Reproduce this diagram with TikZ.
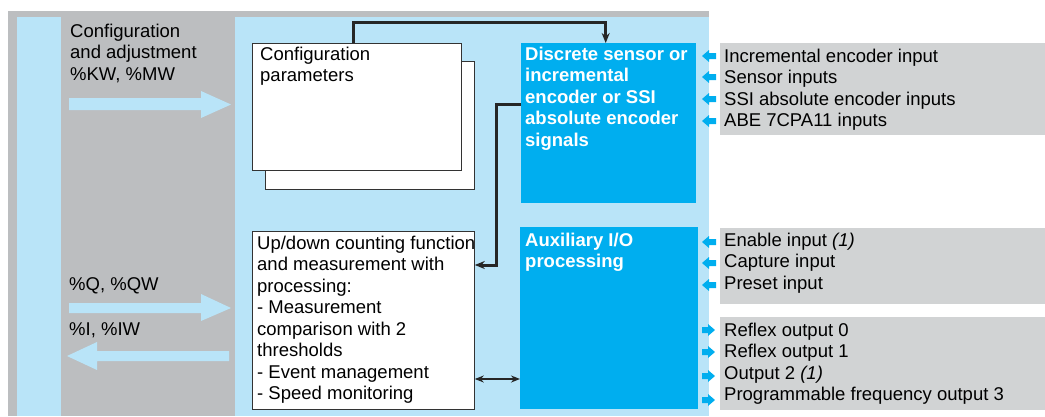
\documentclass[tikz,border=0pt]{standalone}
\usepackage{fontspec}
\setmainfont{Liberation Sans}
\usetikzlibrary{arrows.meta}

\definecolor{framegray}{RGB}{188,190,192}
\definecolor{paleblue}{RGB}{185,228,248}
\definecolor{signalblue}{RGB}{0,174,239}
\definecolor{panelgray}{RGB}{209,211,212}

\tikzset{
  whitebox/.style={draw=black!80,line width=0.8pt,fill=white,inner sep=0pt,anchor=north west},
  bluebox/.style={fill=signalblue,inner sep=0pt,anchor=north west},
  graybox/.style={fill=panelgray,inner sep=0pt,anchor=north west},
  boxtext/.style={anchor=north west,inner sep=0pt,align=left,font=\fontsize{18.5}{21.5}\selectfont},
  boldtext/.style={boxtext,text=white,font=\fontsize{18.5}{21.5}\selectfont\bfseries},
  wire/.style={draw=black!85,line width=3pt},
}

\begin{document}
\begin{tikzpicture}[x=1pt,y=-1pt]
\useasboundingbox (0,0) rectangle (1045,416);
% backgrounds
\fill[framegray] (8,11) rectangle (709,416);
\fill[paleblue] (17,17) rectangle (61,416);
\fill[paleblue] (235,17) rectangle (709,416);
% exchanges with the PLC
\fill[paleblue] (69,98) -- (201,98) -- (201,91) -- (231,104.5) -- (201,118) -- (201,110) -- (69,110) -- cycle;
\fill[paleblue] (69,303) -- (201,303) -- (201,294) -- (231,308) -- (201,321) -- (201,313) -- (69,313) -- cycle;
\fill[paleblue] (229,351) -- (97,351) -- (97,342) -- (67,356) -- (97,370) -- (97,361) -- (229,361) -- cycle;
\node[boxtext] (kwtext) at (70,23.5) {Configuration\\and adjustment\\\%KW, \%MW};
\node[boxtext] (qtext) at (69,277.5) {\%Q, \%QW};
\node[boxtext] (itext) at (69,322.5) {\%I, \%IW};
% module blocks
\node[whitebox,minimum width=209pt,minimum height=128pt] (cfgback) at (265,61) {};
\node[whitebox,minimum width=209pt,minimum height=127pt] (cfg) at (252,43) {};
\node[boxtext] (cfgtext) at (260,46.5) {Configuration\\parameters};
\node[whitebox,minimum width=222pt,minimum height=178pt] (updown) at (252,231) {};
\node[boxtext] (updowntext) at (257,235.5) {Up/down counting function\\and measurement with\\processing:\\- Measurement\\comparison with 2\\thresholds\\- Event management\\- Speed monitoring};
\node[bluebox,minimum width=175pt,minimum height=160pt] (disc) at (521,43) {};
\node[boldtext] (disctext) at (525,46.5) {Discrete sensor or\\incremental\\encoder or SSI\\absolute encoder\\signals};
\node[bluebox,minimum width=178pt,minimum height=182pt] (aux) at (520,227) {};
\node[boldtext] (auxtext) at (525,232.5) {Auxiliary I/O\\processing};
% connectors
\coordinate (busL) at (353,22);
\draw[wire,line width=3pt,-{Stealth[length=10pt,width=8pt]}] (busL |- cfg.north) -- (busL) -| ([xshift=-3pt]disc.north);
\coordinate (kneeA) at (496,104);
\coordinate (kneeB) at (496,265);
\draw[wire,line width=3pt,-{Stealth[length=10pt,width=8pt]}] (kneeA -| disc.west) -- (kneeA) -- (kneeB) -- (kneeB -| updown.east);
\coordinate (ioline) at (496,379);
\draw[wire,line width=2.2pt,{Stealth[length=9pt,width=7pt]}-{Stealth[length=9pt,width=7pt]}] (ioline -| updown.east) -- (ioline -| aux.west);
% physical inputs and outputs
\node[graybox,minimum width=325pt,minimum height=92pt] (inpanel) at (720,43) {};
\node[boxtext] (intext) at (724,48.5) {Incremental encoder input\\Sensor inputs\\SSI absolute encoder inputs\\ABE 7CPA11 inputs};
\node[graybox,minimum width=325pt,minimum height=76pt] (auxin) at (720,228) {};
\node[boxtext] (auxintext) at (724,232.5) {Enable input \textit{(1)}\\Capture input\\Preset input};
\node[graybox,minimum width=325pt,minimum height=93pt] (auxout) at (720,317) {};
\node[boxtext] (auxouttext) at (724,322.5) {Reflex output 0\\Reflex output 1\\Output 2 \textit{(1)}\\Programmable frequency output 3};
\fill[signalblue] (702,56) -- ++(7,-6) -- ++(0,3) -- ++(7,0) -- ++(0,6) -- ++(-7,0) -- ++(0,3) -- cycle;
\fill[signalblue] (702,77) -- ++(7,-6) -- ++(0,3) -- ++(7,0) -- ++(0,6) -- ++(-7,0) -- ++(0,3) -- cycle;
\fill[signalblue] (702,99) -- ++(7,-6) -- ++(0,3) -- ++(7,0) -- ++(0,6) -- ++(-7,0) -- ++(0,3) -- cycle;
\fill[signalblue] (702,121) -- ++(7,-6) -- ++(0,3) -- ++(7,0) -- ++(0,6) -- ++(-7,0) -- ++(0,3) -- cycle;
\fill[signalblue] (702,242) -- ++(7,-6) -- ++(0,3) -- ++(7,0) -- ++(0,6) -- ++(-7,0) -- ++(0,3) -- cycle;
\fill[signalblue] (702,263) -- ++(7,-6) -- ++(0,3) -- ++(7,0) -- ++(0,6) -- ++(-7,0) -- ++(0,3) -- cycle;
\fill[signalblue] (702,285) -- ++(7,-6) -- ++(0,3) -- ++(7,0) -- ++(0,6) -- ++(-7,0) -- ++(0,3) -- cycle;
\fill[signalblue] (702,327) -- ++(6,0) -- ++(0,-3) -- ++(7,6) -- ++(-7,6) -- ++(0,-3) -- ++(-6,0) -- cycle;
\fill[signalblue] (702,349) -- ++(6,0) -- ++(0,-3) -- ++(7,6) -- ++(-7,6) -- ++(0,-3) -- ++(-6,0) -- cycle;
\fill[signalblue] (702,373) -- ++(6,0) -- ++(0,-3) -- ++(7,6) -- ++(-7,6) -- ++(0,-3) -- ++(-6,0) -- cycle;
\fill[signalblue] (702,397) -- ++(6,0) -- ++(0,-3) -- ++(7,6) -- ++(-7,6) -- ++(0,-3) -- ++(-6,0) -- cycle;
\end{tikzpicture}
\end{document}
